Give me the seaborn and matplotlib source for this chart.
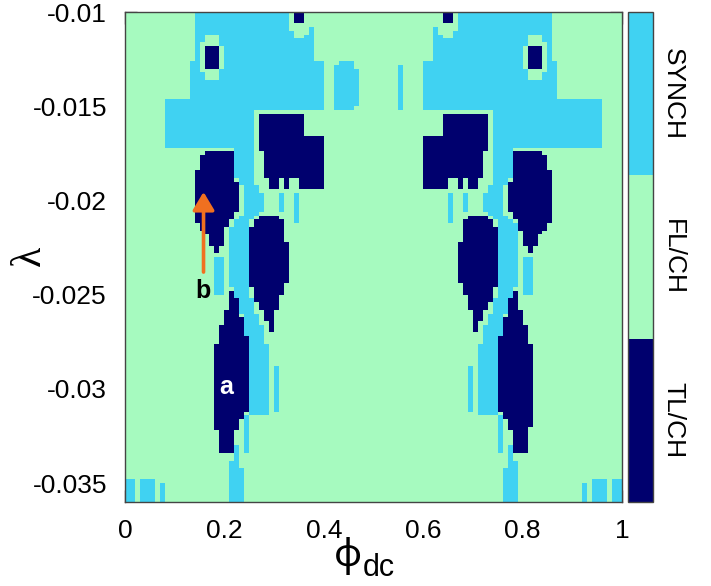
import numpy as np
import pandas as pd
import matplotlib
matplotlib.use("Agg")
import matplotlib.pyplot as plt
import seaborn as sns
from matplotlib.path import Path
from matplotlib.colors import ListedColormap

# ---------------- data ----------------
CATEGORIES = ["TL/CH", "FL/CH", "SYNCH"]          # class 0, 1, 2
COLORS = ["#00006e", "#a6fabf", "#40d2f2"]
BACKGROUND_CLASS = 1

X_RANGE = (0.0, 1.0)
Y_RANGE = (-0.036, -0.010)
NX, NY = 100, 130

X_TICKS = [0, 0.2, 0.4, 0.6, 0.8, 1.0]
X_TICK_LABELS = ["0", "0.2", "0.4", "0.6", "0.8", "1"]
Y_TICKS = [-0.01, -0.015, -0.02, -0.025, -0.03, -0.035]
Y_TICK_LABELS = ["-0.01", "-0.015", "-0.02", "-0.025", "-0.03", "-0.035"]

# SYNCH regions of the left half (mirrored about phi=0.5)
SYNCH_MAIN = [(0.137, -0.0100), (0.378, -0.0100), (0.378, -0.0127), (0.398, -0.0127),
              (0.398, -0.0152), (0.262, -0.0152), (0.262, -0.0190), (0.278, -0.0197),
              (0.278, -0.0205), (0.246, -0.0212), (0.246, -0.0244), (0.258, -0.0254),
              (0.280, -0.0270), (0.290, -0.0280), (0.290, -0.0313), (0.250, -0.0313),
              (0.250, -0.0280), (0.244, -0.0270), (0.230, -0.0254), (0.211, -0.0244),
              (0.209, -0.0225), (0.215, -0.0213), (0.237, -0.0207), (0.237, -0.0193),
              (0.223, -0.0186), (0.223, -0.0172), (0.081, -0.0172), (0.081, -0.0147),
              (0.131, -0.0147), (0.131, -0.0127), (0.137, -0.0127)]
SYNCH_SPIKE = [(0.219, -0.0331), (0.227, -0.0331), (0.241, -0.0350), (0.241, -0.0360),
               (0.207, -0.0360), (0.207, -0.0350)]
SYNCH_RECTS = [(0.306, 0.318, -0.0206, -0.0195), (0.338, 0.348, -0.0212, -0.0195),
               (0.237, 0.252, -0.0333, -0.0313), (0.298, 0.308, -0.0311, -0.0288),
               (0.000, 0.020, -0.0360, -0.0347), (0.030, 0.056, -0.0360, -0.0347),
               (0.070, 0.080, -0.0360, -0.0349)]
SYNCH_ELLIPSES = [(0.189, -0.0240, 0.012, 0.0011)]
SYNCH_LEFT_ONLY = [(0.425, -0.0127), (0.461, -0.0127), (0.467, -0.0132), (0.467, -0.0148),
                   (0.461, -0.0153), (0.425, -0.0153), (0.419, -0.0148), (0.419, -0.0132)]
SYNCH_RIGHT_ONLY_RECTS = [(0.546, 0.558, -0.0152, -0.0128), (0.900, 0.956, -0.0172, -0.0147)]

# FL/CH holes around the small TL/CH islands (cx, cy, rx, ry)
GREEN_ELLIPSES = [(0.173, -0.0124, 0.024, 0.00130), (0.352, -0.0100, 0.027, 0.00135)]

# TL/CH regions of the left half (mirrored)
DARK_ELLIPSES = [(0.174, -0.0124, 0.018, 0.00068), (0.352, -0.0100, 0.012, 0.00062)]
DARK_A1 = [(0.268, -0.0154), (0.356, -0.0154), (0.356, -0.0166), (0.396, -0.0166),
           (0.396, -0.0193), (0.346, -0.0193), (0.346, -0.0187), (0.332, -0.0187),
           (0.332, -0.0193), (0.318, -0.0193), (0.318, -0.0187), (0.306, -0.0187),
           (0.306, -0.0193), (0.288, -0.0193), (0.280, -0.0180), (0.272, -0.0170),
           (0.268, -0.0160)]
DARK_B = [(0.157, -0.0174), (0.215, -0.0174), (0.221, -0.0186), (0.227, -0.0193),
          (0.227, -0.0205), (0.205, -0.0215), (0.197, -0.0222), (0.191, -0.0228),
          (0.179, -0.0228), (0.171, -0.0220), (0.151, -0.0216), (0.137, -0.0208),
          (0.137, -0.0193), (0.143, -0.0186), (0.150, -0.0178)]
DARK_C = [(0.282, -0.0207), (0.302, -0.0207), (0.322, -0.0213), (0.326, -0.0226),
          (0.326, -0.0244), (0.316, -0.0250), (0.304, -0.0258), (0.298, -0.0270),
          (0.292, -0.0270), (0.276, -0.0258), (0.262, -0.0253), (0.252, -0.0244),
          (0.252, -0.0216), (0.266, -0.0210)]
DARK_A = [(0.211, -0.0249), (0.219, -0.0249), (0.227, -0.0253), (0.237, -0.0263),
          (0.247, -0.0274), (0.247, -0.0311), (0.231, -0.0317), (0.221, -0.0326),
          (0.215, -0.0333), (0.191, -0.0333), (0.187, -0.0326), (0.181, -0.0311),
          (0.181, -0.0285), (0.187, -0.0272), (0.205, -0.0258)]

LABEL_A = ("a", 0.203, -0.0299)
LABEL_B = ("b", 0.157, -0.0248)
ARROW_TAIL = (0.158, -0.0238)
ARROW_TIP = (0.158, -0.01955)

# ---------------- build the class grid ----------------
dx = (X_RANGE[1] - X_RANGE[0]) / NX
dy = (Y_RANGE[1] - Y_RANGE[0]) / NY
ytop = Y_RANGE[1]
xc = X_RANGE[0] + (np.arange(NX) + 0.5) * dx
yc = ytop - (np.arange(NY) + 0.5) * dy
XX, YY = np.meshgrid(xc, yc)
pts = np.column_stack([XX.ravel(), YY.ravel()])
grid = np.full((NY, NX), BACKGROUND_CLASS, dtype=int)


def mirror_poly(poly):
    return [(1.0 - x, y) for x, y in poly]


def rect_poly(r):
    x0, x1, y0, y1 = r
    return [(x0, y0), (x1, y0), (x1, y1), (x0, y1)]


def paint_poly(poly, val):
    m = Path(poly).contains_points(pts).reshape(NY, NX)
    grid[m] = val


def paint_ellipse(e, val):
    cx, cy, rx, ry = e
    m = ((XX - cx) / rx) ** 2 + ((YY - cy) / ry) ** 2 <= 1.0
    grid[m] = val


def paint_both(poly, val):
    paint_poly(poly, val)
    paint_poly(mirror_poly(poly), val)


def ellipse_both(e, val):
    paint_ellipse(e, val)
    paint_ellipse((1.0 - e[0], e[1], e[2], e[3]), val)


# SYNCH
paint_both(SYNCH_MAIN, 2)
paint_both(SYNCH_SPIKE, 2)
for r in SYNCH_RECTS:
    paint_both(rect_poly(r), 2)
for e in SYNCH_ELLIPSES:
    ellipse_both(e, 2)
paint_poly(SYNCH_LEFT_ONLY, 2)
for r in SYNCH_RIGHT_ONLY_RECTS:
    paint_poly(rect_poly(r), 2)
# FL/CH holes
for e in GREEN_ELLIPSES:
    ellipse_both(e, 1)
# TL/CH
for e in DARK_ELLIPSES:
    ellipse_both(e, 0)
for poly in (DARK_A1, DARK_B, DARK_C, DARK_A):
    paint_both(poly, 0)

df = pd.DataFrame(grid, index=np.round(yc, 5), columns=np.round(xc, 3))

# ---------------- plot ----------------
sns.set_theme(style="white")
plt.rcParams["font.family"] = ["Liberation Sans", "DejaVu Sans"]
plt.rcParams["text.color"] = "black"
plt.rcParams["xtick.labelcolor"] = "black"
plt.rcParams["ytick.labelcolor"] = "black"

W, H = 711, 586
fig = plt.figure(figsize=(W / 100, H / 100), dpi=100)
ax = fig.add_axes([125 / W, (H - 502) / H, 497 / W, 490 / H])
cax = fig.add_axes([628 / W, (H - 502) / H, 25 / W, 490 / H])

cmap = ListedColormap(COLORS)
sns.heatmap(df, ax=ax, cbar_ax=cax, cmap=cmap, vmin=-0.5, vmax=2.5,
            xticklabels=False, yticklabels=False, cbar_kws={"ticks": [0, 1, 2]})


def to_idx(x, y):
    return (x - X_RANGE[0]) / dx, (ytop - y) / dy


ax.set_xticks([to_idx(x, ytop)[0] for x in X_TICKS])
ax.set_xticklabels(X_TICK_LABELS, fontsize=19, color="black")
ax.set_yticks([to_idx(0, y)[1] for y in Y_TICKS])
ax.set_yticklabels(Y_TICK_LABELS, fontsize=19, rotation=0, color="black")
ax.tick_params(direction="in", length=8.5, width=1, color="#555555",
               top=True, right=True, bottom=True, left=True,
               labeltop=False, labelright=False)
ax.tick_params(axis="x", pad=12)
ax.tick_params(axis="y", pad=13)
for s in ax.spines.values():
    s.set_visible(True)
    s.set_color("#444444")
    s.set_linewidth(1)
ax.set_xlabel("")
ax.set_ylabel("")

fig.text(30 / W, 1 - 256 / H, "λ", rotation=90, ha="center", va="center",
         fontsize=30, color="black", family=["Liberation Serif", "DejaVu Serif"])
# x label: phi with subscript dc
fig.text(362 / W, 1 - 566 / H, "ϕ", ha="right", va="baseline", fontsize=28,
         color="black", family=["Noto Sans", "DejaVu Sans"])
fig.text(363 / W, 1 - 576 / H, "dc", ha="left", va="baseline", fontsize=22,
         color="black")

# annotations
ax.text(*to_idx(LABEL_A[1], LABEL_A[2]), LABEL_A[0], color="white", fontsize=18,
        fontweight="bold", ha="center", va="center")
ax.text(*to_idx(LABEL_B[1], LABEL_B[2]), LABEL_B[0], color="black", fontsize=18,
        fontweight="bold", ha="center", va="center")
ax.annotate("", xy=to_idx(*ARROW_TIP), xytext=to_idx(*ARROW_TAIL),
            arrowprops=dict(arrowstyle="-|>,head_length=0.55,head_width=0.33",
                            mutation_scale=20, lw=2.6, color="#f07020",
                            shrinkA=0, shrinkB=0))

# colorbar
cbar = ax.collections[0].colorbar
cbar.set_ticks([0, 1, 2])
cbar.set_ticklabels(CATEGORIES)
cbar.ax.tick_params(length=0, pad=6, labelcolor="black")
for lab in cbar.ax.get_yticklabels():
    lab.set_rotation(-90)
    lab.set_va("center")
    lab.set_fontsize(19)
    lab.set_color("black")
cbar.outline.set_visible(True)
cbar.outline.set_edgecolor("#444444")
cbar.outline.set_linewidth(1)

fig.savefig("out.png", dpi=100)
